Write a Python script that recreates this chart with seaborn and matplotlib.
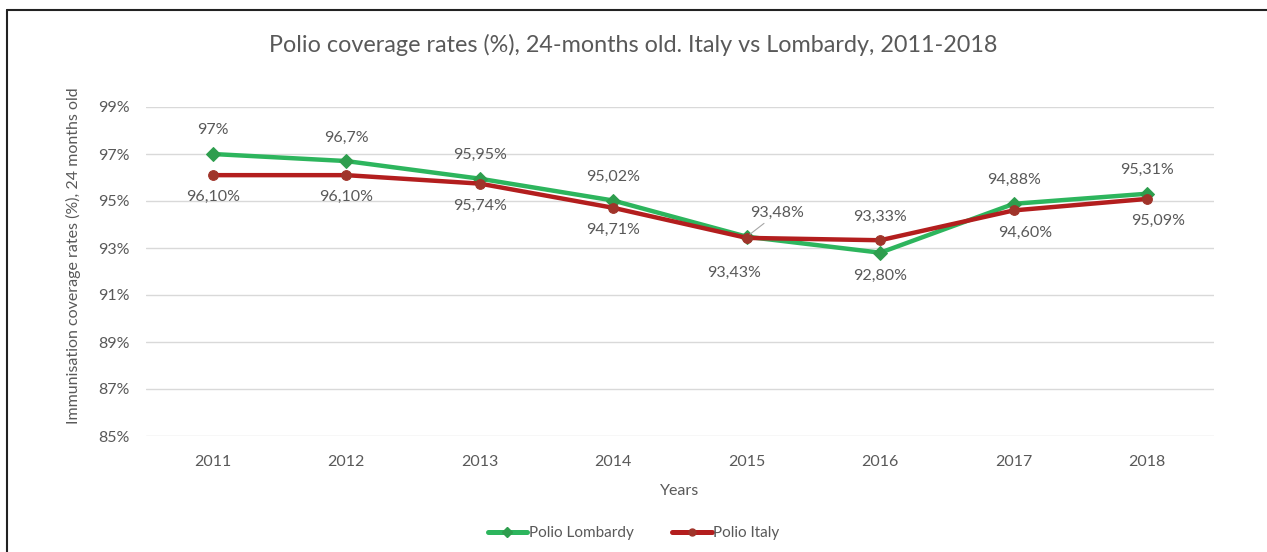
import pandas as pd
import seaborn as sns
import matplotlib.pyplot as plt
from matplotlib.lines import Line2D

# data
years = ["2011", "2012", "2013", "2014", "2015", "2016", "2017", "2018"]
lombardy = [97.0, 96.7, 95.95, 95.02, 93.48, 92.80, 94.88, 95.31]
italy = [96.10, 96.10, 95.74, 94.71, 93.43, 93.33, 94.60, 95.09]
lombardy_labels = ["97%", "96,7%", "95,95%", "95,02%", "93,48%", "92,80%", "94,88%", "95,31%"]
italy_labels = ["96,10%", "96,10%", "95,74%", "94,71%", "93,43%", "93,33%", "94,60%", "95,09%"]
y_ticks = [85, 87, 89, 91, 93, 95, 97, 99]

# label placement (offset in points)
lomb_off = [(0, 17), (0, 17), (0, 17), (0, 17), (22, 17), (0, -17), (0, 17), (0, 17)]
italy_off = [(0, -16), (0, -16), (0, -16), (0, -16), (-9, -25), (0, 17), (8, -16), (8, -16)]

GREY = "#595959"
GREEN = "#2DB55D"
RED = "#B31E1E"

df = pd.DataFrame({
    "x": list(range(len(years))) * 2,
    "value": lombardy + italy,
    "series": ["Polio Lombardy"] * len(years) + ["Polio Italy"] * len(years),
})

sns.set_theme(style="whitegrid")
plt.rcParams["font.family"] = ["Lato", "DejaVu Sans"]

fig = plt.figure(figsize=(12.67, 5.52), dpi=100)
ax = fig.add_axes([146 / 1267, 1 - 436 / 552, (1214 - 146) / 1267, (436 - 107) / 552])

sns.lineplot(data=df, x="x", y="value", hue="series", style="series",
             palette={"Polio Lombardy": GREEN, "Polio Italy": RED},
             markers={"Polio Lombardy": "D", "Polio Italy": "o"},
             dashes=False, linewidth=3.2, markersize=7, ax=ax, legend=False)
for line, mc in zip(ax.lines, ["#2E9E4E", "#A0342A"]):
    line.set_markerfacecolor(mc)
    line.set_markeredgecolor(mc)

ax.set_xlim(-0.5, len(years) - 0.5)
ax.set_ylim(85, 99)
ax.set_xticks(range(len(years)))
ax.set_xticklabels(years)
ax.set_yticks(y_ticks)
ax.set_yticklabels([f"{t}%" for t in y_ticks])
ax.grid(axis="x", visible=False)
ax.grid(axis="y", color="#D9D9D9", linewidth=1)
for s in ax.spines.values():
    s.set_visible(False)
ax.tick_params(axis="both", colors=GREY, labelsize=11.5, length=0)
ax.tick_params(axis="x", pad=14)
ax.tick_params(axis="y", pad=12)

for i in range(len(years)):
    arrow = None
    if i == 4:
        arrow = dict(arrowstyle="-", color="#A6A6A6", lw=0.8, shrinkA=0, shrinkB=3)
    ax.annotate(lombardy_labels[i], (i, lombardy[i]), xytext=lomb_off[i],
                textcoords="offset points", ha="center", va="center",
                fontsize=11.5, color=GREY, arrowprops=arrow)
    ax.annotate(italy_labels[i], (i, italy[i]), xytext=italy_off[i],
                textcoords="offset points", ha="center", va="center",
                fontsize=11.5, color=GREY)

ax.set_xlabel("Years", color=GREY, fontsize=11.5)
ax.xaxis.set_label_coords(0.5, -(484 - 436) / (436 - 107))
ax.set_ylabel("Immunisation coverage rates (%), 24 months old", color=GREY, fontsize=11.5)
ax.yaxis.set_label_coords((81 - 146) / (1214 - 146), (436 - 256) / (436 - 107))

fig.text(0.5, 1 - 45 / 552, "Polio coverage rates (%), 24-months old. Italy vs Lombardy, 2011-2018",
         ha="center", va="center", fontsize=16.8, color=GREY)

handles = [
    Line2D([], [], color=GREEN, lw=3.6, marker="D", markersize=5,
           markerfacecolor="#2E9E4E", markeredgecolor="#2E9E4E"),
    Line2D([], [], color=RED, lw=3.6, marker="o", markersize=5,
           markerfacecolor="#A0342A", markeredgecolor="#A0342A"),
]
leg = fig.legend(handles, ["Polio Lombardy", "Polio Italy"], loc="center",
                 bbox_to_anchor=(0.5, 1 - 533 / 552), ncol=2, frameon=False,
                 fontsize=11, handlelength=2.6, handletextpad=0.1, columnspacing=2.5)
for t in leg.get_texts():
    t.set_color(GREY)

# outer frame (left and top edges only visible in the crop)
x0, y0 = 7 / 1267, 1 - 10 / 552
fig.add_artist(Line2D([x0, x0], [0, y0], transform=fig.transFigure, color="#222222", lw=1.5))
fig.add_artist(Line2D([x0, 1], [y0, y0], transform=fig.transFigure, color="#222222", lw=1.5))

fig.savefig("out.png", dpi=100)
